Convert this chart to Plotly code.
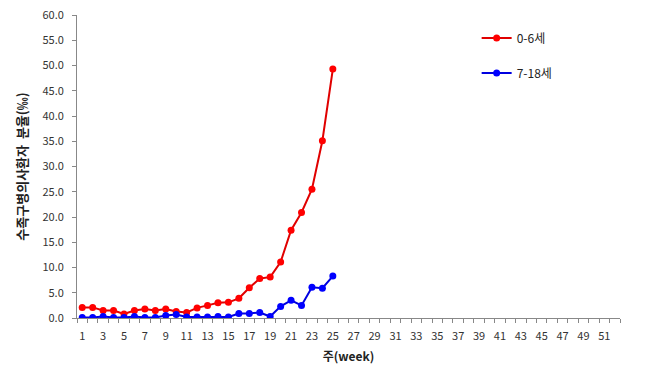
import plotly.graph_objects as go

weeks_red = list(range(1, 26))
red_vals = [2.1, 2.1, 1.5, 1.5, 0.8, 1.5, 1.8, 1.5, 1.8, 1.3, 1.1, 2.0, 2.5, 3.0, 3.1,
            3.9, 6.0, 7.8, 8.1, 11.1, 17.4, 20.9, 25.5, 35.1, 49.3]
weeks_blue = list(range(1, 26))
blue_vals = [0.1, 0.1, 0.3, 0.1, 0.1, 0.3, 0.1, 0.1, 0.5, 0.7, 0.2, 0.2, 0.2, 0.3, 0.2,
             0.9, 0.9, 1.1, 0.3, 2.3, 3.5, 2.5, 6.1, 5.9, 8.3]
x_tickvals = list(range(1, 52, 2))
y_tickvals = [i * 5 for i in range(13)]
series_names = ["0-6세", "7-18세"]

font_family = "Noto Sans CJK KR, Noto Sans, sans-serif"

fig = go.Figure()
fig.add_trace(go.Scatter(x=weeks_red, y=red_vals, name=series_names[0], mode="lines+markers",
                         line=dict(color="#E00000", width=2),
                         marker=dict(color="#FF0000", size=7), legendgroup="a"))
fig.add_trace(go.Scatter(x=weeks_blue, y=blue_vals, name=series_names[1], mode="lines+markers",
                         line=dict(color="#0000E0", width=2),
                         marker=dict(color="#0000FF", size=7), legendgroup="b"))

fig.update_layout(
    width=651, height=378,
    margin=dict(l=77, r=31, t=15, b=60, autoexpand=False),
    paper_bgcolor="white", plot_bgcolor="white",
    font=dict(family=font_family, size=11, color="#333333"),
    legend=dict(x=0.736, y=0.972, xanchor="left", yanchor="top",
                font=dict(size=12, color="#222222"), tracegroupgap=16,
                bgcolor="rgba(0,0,0,0)"),
    xaxis=dict(range=[0.5, 52.5], tickmode="array", tickvals=x_tickvals,
               ticktext=[str(v) for v in x_tickvals], ticks="",
               showline=True, linecolor="#888888", linewidth=1, showgrid=False,
               zeroline=False,
               minor=dict(tickmode="linear", tick0=0.5, dtick=1, ticks="outside",
                          ticklen=4, tickcolor="#888888", showgrid=False),
               ticklabelstandoff=8,
               title=dict(text="<b>주(week)</b>", font=dict(size=12, color="#222222"),
                          standoff=10)),
    yaxis=dict(range=[0, 60], tickmode="array", tickvals=y_tickvals,
               tickformat=".1f", ticks="outside", ticklen=4, tickcolor="#888888",
               showline=True, linecolor="#888888", linewidth=1, showgrid=False,
               zeroline=False, ticklabelstandoff=6,
               title=dict(text="<b>수족구병의사환자  분율(‰)</b>",
                          font=dict(size=13, color="#222222"), standoff=11)),
)

fig.write_html("out.html", config={"displayModeBar": False},
               post_script="document.body.style.margin='0';")
